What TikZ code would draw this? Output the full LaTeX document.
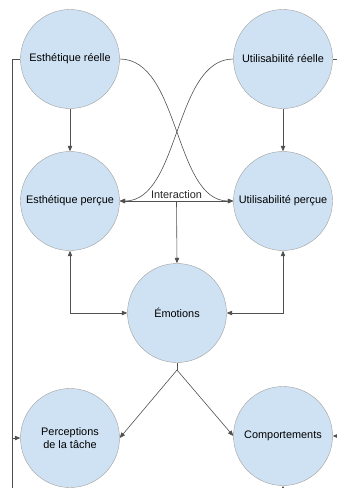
\documentclass[tikz,border=0pt]{standalone}
\usepackage{fontspec}
\setmainfont{Liberation Sans}
\usepackage{xcolor}
\usepackage{tikz}
\usetikzlibrary{arrows.meta, positioning}
\definecolor{bubbleblue}{RGB}{207, 226, 243}
\definecolor{bubbleedge}{RGB}{160, 160, 160}
\definecolor{linkgray}{RGB}{80, 80, 80}

\begin{document}
\begin{tikzpicture}[x=1pt, y=-1pt, >={Triangle[length=5.5pt,width=4.5pt]},
  every node/.style={font=\fontsize{10.9}{13.5}\selectfont},
  bubble/.style={circle,draw=bubbleedge,fill=bubbleblue,minimum size=99pt,inner sep=0pt,align=center},
  link/.style={linkgray,line width=0.6pt}]
\useasboundingbox (0,0) rectangle (337,488);

% Real qualities
\node[bubble] at (70,59) (er) {Esthétique réelle};
\node[bubble] at (283,59) (ur) {Utilisabilité réelle};

% Perceived qualities
\node[bubble] at (70,201) (ep) {Esthétique perçue};
\node[bubble] at (283,201) (up) {Utilisabilité perçue};

% Emotions
\node[bubble] at (177,313) (em) {Émotions};

% Outcomes
\node[bubble] at (70,438) (pt) {Perceptions\\de la tâche};
\node[bubble] at (283,436) (co) {Comportements};

% Free ends (cropped)
\coordinate (fbl) at (12,488);
\coordinate (fbr) at (337,59);
\coordinate (inr) at (337,436);
\coordinate (inb) at (283,494);
\coordinate (split) at (177,370);

% Real -> perceived
\draw[->,link] (er) -- (ep);
\draw[->,link] (ur) -- (up);
\draw[->,link] (er.east) .. controls (180,59) and (174,201) .. (up.west);
\draw[->,link] (ur.west) .. controls (174,59) and (180,201) .. (ep.east);

% Interaction
\draw[<->,link] (ep.east) -- coordinate (ix) node[midway,above=-1.5pt,text=black!85] {Interaction} (up.west);
\draw[->,link] (ix) -- (em.north);

% Perceived <-> emotions
\draw[<->,link] (ep.south) |- (em.west);
\draw[<->,link] (up.south) |- (em.east);

% Emotions -> outcomes
\draw[link] (em.south) -- (split);
\draw[->,link] (split) -- (pt.east);
\draw[->,link] (split) -- (co.west);

% Feedback lines
\draw[link] (er.west) -| (fbl);
\draw[->,link] (fbl |- pt.west) -- (pt.west);
\draw[link] (ur.east) -- (fbr);
\draw[->,link] (inr) -- (co.east);
\draw[->,link] (inb) -- (co.south);
\end{tikzpicture}
\end{document}
